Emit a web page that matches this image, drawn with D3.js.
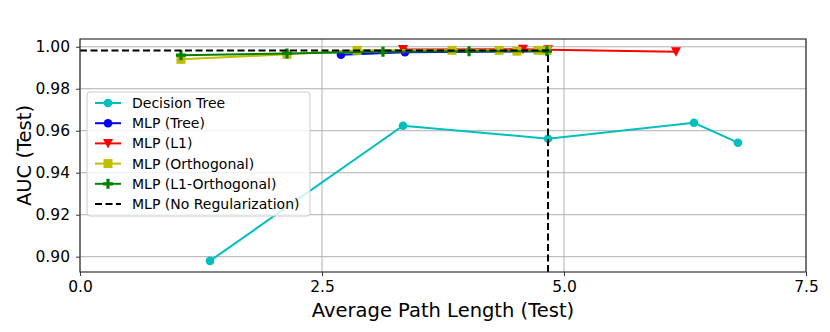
<!DOCTYPE html>
<html><head><meta charset="utf-8">
<script src="https://cdn.jsdelivr.net/npm/d3@7"></script>
<style>body{margin:0;background:#fff}svg{display:block}text{font-family:"DejaVu Sans",sans-serif}</style>
</head><body><svg id="c" width="830" height="332"></svg>
<script>
const xTicks = [0, 2.5, 5.0, 7.5];
const yTicks = [0.90, 0.92, 0.94, 0.96, 0.98, 1.00];
const decisionTree = [[1.343, 0.8980], [3.337, 0.9624], [4.835, 0.9562], [6.343, 0.9638], [6.797, 0.9543]];
const mlpTree = [[2.696, 0.9962], [3.357, 0.9974], [4.824, 0.9979]];
const mlpL1 = [[3.337, 0.9987], [4.576, 0.9988], [4.835, 0.9986], [6.157, 0.9976]];
const mlpOrth = [[1.043, 0.9940], [2.138, 0.9964], [2.862, 0.9983], [3.843, 0.9983], [4.329, 0.9983], [4.514, 0.9979], [4.731, 0.9983], [4.824, 0.9982]];
const mlpL1Orth = [[1.043, 0.9960], [2.138, 0.9968], [3.130, 0.9976], [4.019, 0.9979], [4.824, 0.9979]];
const noReg = [4.835, 0.9982];
const seriesNames = ["Decision Tree", "MLP (Tree)", "MLP (L1)", "MLP (Orthogonal)", "MLP (L1-Orthogonal)", "MLP (No Regularization)"];

const svg = d3.select("#c");
const L = 80, R = 806, T = 39, B = 272;
const x = d3.scaleLinear().domain([0, 7.5]).range([L, R]);
const y = d3.scaleLinear().domain([0.8927, 1.0037]).range([B, T]);

svg.append("clipPath").attr("id", "clip").append("rect").attr("x", L).attr("y", T).attr("width", R - L).attr("height", B - T);

// grid
const g = svg.append("g");
g.selectAll(".gx").data(xTicks).join("line").attr("x1", d => x(d)).attr("x2", d => x(d)).attr("y1", T).attr("y2", B).attr("stroke", "#b0b0b0").attr("stroke-width", 1);
g.selectAll(".gy").data(yTicks).join("line").attr("x1", L).attr("x2", R).attr("y1", d => y(d)).attr("y2", d => y(d)).attr("stroke", "#b0b0b0").attr("stroke-width", 1);

// axes
const xa = svg.append("g").attr("transform", `translate(0,${B})`).call(d3.axisBottom(x).tickValues(xTicks).tickFormat(d3.format(".1f")).tickSizeOuter(0).tickSize(4).tickPadding(4));
const ya = svg.append("g").attr("transform", `translate(${L},0)`).call(d3.axisLeft(y).tickValues(yTicks).tickFormat(d3.format(".2f")).tickSizeOuter(0).tickSize(4).tickPadding(6));
[xa, ya].forEach(a => { a.select(".domain").remove(); a.selectAll("line").attr("stroke", "#333"); a.selectAll("text").attr("font-size", 15.5).attr("fill", "#000").attr("font-family", "DejaVu Sans"); });
xa.selectAll("text").attr("dy", "0.75em");

const plot = svg.append("g").attr("clip-path", "url(#clip)");
const line = d3.line().x(d => x(d[0])).y(d => y(d[1]));

function marker(sel, shape, color, px, py) {
  if (shape === "circle") sel.append("circle").attr("cx", px).attr("cy", py).attr("r", 4.3).attr("fill", color);
  else if (shape === "tri") sel.append("path").attr("d", `M${px-5},${py-4.5}L${px+5},${py-4.5}L${px},${py+5}Z`).attr("fill", color);
  else if (shape === "square") sel.append("rect").attr("x", px - 4.5).attr("y", py - 4.5).attr("width", 9).attr("height", 9).attr("fill", color);
  else if (shape === "plus") sel.append("path").attr("d", `M${px-1.6},${py-5}h3.2v3.4h3.4v3.2h-3.4v3.4h-3.2v-3.4h-3.4v-3.2h3.4Z`).attr("fill", color);
}

const series = [
  {data: decisionTree, color: "#00bfbf", shape: "circle"},
  {data: mlpTree, color: "#0000ff", shape: "circle"},
  {data: mlpL1, color: "#ff0000", shape: "tri"},
  {data: mlpOrth, color: "#bfbf00", shape: "square"},
  {data: mlpL1Orth, color: "#008000", shape: "plus"}
];
series.forEach(s => {
  const gg = plot.append("g");
  gg.append("path").attr("d", line(s.data)).attr("fill", "none").attr("stroke", s.color).attr("stroke-width", 2);
  s.data.forEach(d => marker(gg, s.shape, s.color, x(d[0]), y(d[1])));
});
// no regularization
plot.append("path").attr("d", line([[0, noReg[1]], noReg, [noReg[0], 0.85]])).attr("fill", "none").attr("stroke", "#000").attr("stroke-width", 2).attr("stroke-dasharray", "7,3.5");

// frame
svg.append("rect").attr("x", L).attr("y", T).attr("width", R - L).attr("height", B - T).attr("fill", "none").attr("stroke", "#333").attr("stroke-width", 1.2);

// labels
svg.append("text").attr("x", (L + R) / 2).attr("y", 317).attr("text-anchor", "middle").attr("font-size", 19.5).text("Average Path Length (Test)");
svg.append("text").attr("transform", `translate(31,${(T + B) / 2}) rotate(-90)`).attr("text-anchor", "middle").attr("font-size", 19.5).text("AUC (Test)");

// legend
const lg = svg.append("g").attr("transform", "translate(87,92)");
lg.append("rect").attr("width", 223).attr("height", 124).attr("rx", 3).attr("fill", "#fff").attr("fill-opacity", 0.8).attr("stroke", "#ccc");
seriesNames.forEach((n, i) => {
  const yy = 11 + i * 20.2;
  const row = lg.append("g");
  if (i < 5) {
    const s = series[i];
    row.append("line").attr("x1", 8).attr("x2", 34).attr("y1", yy).attr("y2", yy).attr("stroke", s.color).attr("stroke-width", 2);
    marker(row, s.shape, s.color, 21, yy);
  } else {
    row.append("line").attr("x1", 8).attr("x2", 34).attr("y1", yy).attr("y2", yy).attr("stroke", "#000").attr("stroke-width", 2).attr("stroke-dasharray", "7,3.5");
  }
  row.append("text").attr("x", 45).attr("y", yy).attr("dy", "0.35em").attr("font-size", 14).text(n);
});
</script></body></html>
